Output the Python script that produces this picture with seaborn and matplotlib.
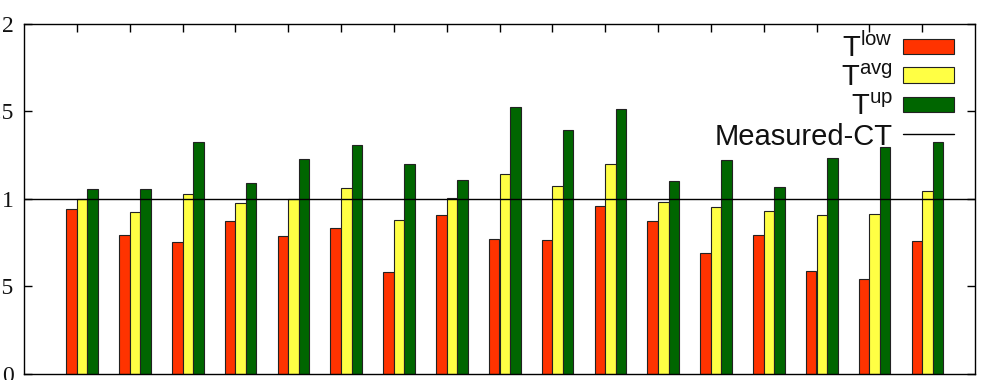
import numpy as np
import pandas as pd
import matplotlib
matplotlib.use("Agg")
import matplotlib.pyplot as plt
import seaborn as sns
from matplotlib.patches import Rectangle
from matplotlib.lines import Line2D

groups = [f"G{i+1}" for i in range(17)]
t_low = [0.942, 0.792, 0.754, 0.871, 0.787, 0.832, 0.579, 0.906, 0.768, 0.766,
         0.956, 0.874, 0.689, 0.792, 0.586, 0.542, 0.758]
t_avg = [0.997, 0.924, 1.025, 0.974, 0.997, 1.059, 0.881, 1.007, 1.144, 1.075,
         1.201, 0.979, 0.951, 0.930, 0.905, 0.912, 1.042]
t_up = [1.055, 1.056, 1.323, 1.092, 1.227, 1.305, 1.199, 1.105, 1.527, 1.393,
        1.511, 1.100, 1.221, 1.067, 1.233, 1.294, 1.326]
measured_ct = 1.0
series_names = ["low", "avg", "up"]
legend_labels = [r"$\mathrm{T}^{\mathrm{low}}$", r"$\mathrm{T}^{\mathrm{avg}}$",
                 r"$\mathrm{T}^{\mathrm{up}}$", "Measured-CT"]
y_ticks = [0, 0.5, 1, 1.5, 2]
y_ticklabels = ["0", "0.5", "1", "1.5", "2"]
colors = {"low": "#ff3300", "avg": "#ffff44", "up": "#006600"}

df = pd.DataFrame({
    "group": groups * 3,
    "series": ["low"] * 17 + ["avg"] * 17 + ["up"] * 17,
    "value": t_low + t_avg + t_up,
})

sns.set_theme(style="ticks")
plt.rcParams["font.family"] = ["Liberation Sans", "DejaVu Sans"]
plt.rcParams["mathtext.fontset"] = "custom"
plt.rcParams["mathtext.rm"] = "Liberation Sans"
plt.rcParams["mathtext.it"] = "Liberation Sans:italic"

W, H = 984, 380
AX_L, AX_R, AX_T, AX_B = 24, 975, 24, 373.5
fig = plt.figure(figsize=(W / 100, H / 100), dpi=100)
ax = fig.add_axes([AX_L / W, 1 - AX_B / H, (AX_R - AX_L) / W, (AX_B - AX_T) / H])

sns.barplot(data=df, x="group", y="value", hue="series", hue_order=series_names,
            palette=colors, width=0.6, edgecolor="#222222", linewidth=0.8,
            saturation=1, ax=ax, legend=False)
ax.axhline(measured_ct, color="black", lw=1.0, zorder=3)

n = len(groups)
ax.set_xlim(-1.1, n - 1 + 0.9)
ax.set_ylim(0, 2)
ax.set_xlabel("")
ax.set_ylabel("")

ax.set_xticks(np.arange(n) - 0.1)
ax.set_xticklabels([])
ax.tick_params(axis="x", which="both", bottom=False, top=True, labelbottom=False,
               labeltop=False, direction="in", length=5.5, width=1.0, color="black")
ax.set_yticks(y_ticks)
ax.set_yticklabels(y_ticklabels, fontfamily="Liberation Serif", fontsize=17)
ax.tick_params(axis="y", left=True, right=True, direction="in", length=5.5,
               width=1.0, pad=7.3, color="black", labelcolor="#111111")
for s in ax.spines.values():
    s.set_visible(True)
    s.set_color("black")
    s.set_linewidth(1.0)

# legend (labels left, samples right), placed in axes fraction coordinates
def fx(px):
    return (px - AX_L) / (AX_R - AX_L)

def fy(py):
    return (AX_B - py) / (AX_B - AX_T)

row_centers = [46, 75, 104, 134]
box_x0, box_x1, box_h = 903, 954, 15
text_right = 893
for i, lab in enumerate(legend_labels):
    yc = row_centers[i]
    if i < 3:
        ax.add_patch(Rectangle((fx(box_x0), fy(yc + box_h / 2)),
                               fx(box_x1) - fx(box_x0), fy(yc - box_h / 2) - fy(yc + box_h / 2),
                               transform=ax.transAxes, facecolor=colors[series_names[i]],
                               edgecolor="#222222", linewidth=0.8, zorder=5, clip_on=False))
    else:
        ax.add_line(Line2D([fx(box_x0), fx(box_x1)], [fy(yc), fy(yc)],
                           transform=ax.transAxes, color="black", lw=1.0, zorder=5))
    ax.text(fx(text_right), fy(yc + 11), lab, transform=ax.transAxes, ha="right",
            va="baseline", fontsize=21, color="#111111", zorder=5)

fig.savefig("out.png", dpi=100)
